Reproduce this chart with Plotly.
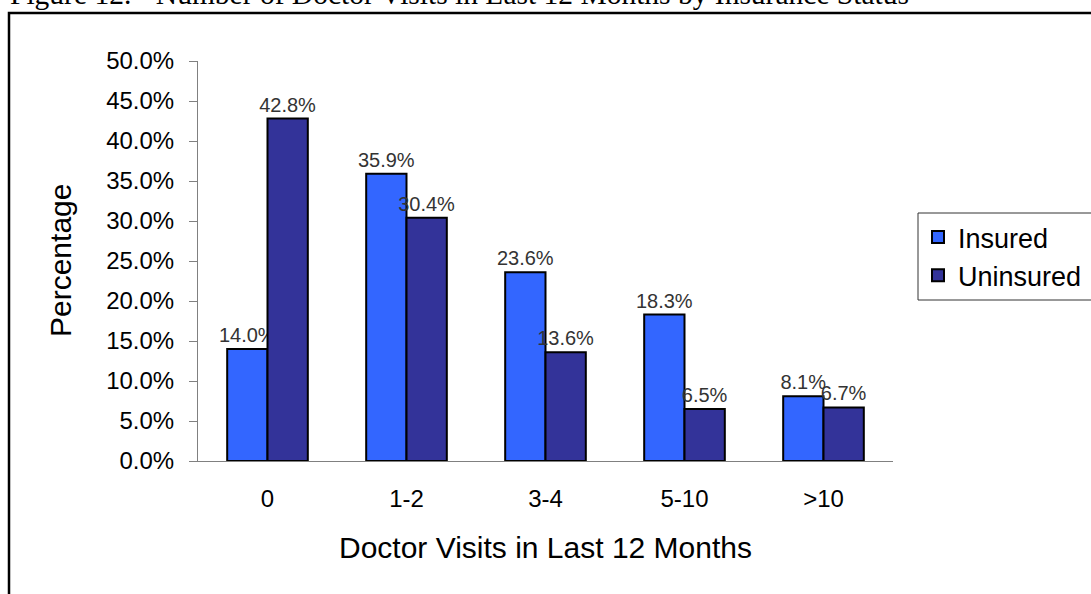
import plotly.graph_objects as go

categories = ["0", "1-2", "3-4", "5-10", ">10"]
insured = [14.0, 35.9, 23.6, 18.3, 8.1]
uninsured = [42.8, 30.4, 13.6, 6.5, 6.7]
y_ticks = [0, 5, 10, 15, 20, 25, 30, 35, 40, 45, 50]

W, H = 1091, 594
L, R, T, B = 198, 198, 61, 133
pw, ph = W - L - R, H - T - B

def px(x):
    return (x - L) / pw

def py(y):
    return (H - B - y) / ph

fig = go.Figure()
fig.add_trace(go.Bar(
    name="Insured", x=categories, y=insured,
    marker=dict(color="#3366FF", line=dict(color="black", width=2)),
    texttemplate="%{y:.1f}%", textposition="outside", constraintext="none",
    textfont=dict(size=20, color="#333333"), cliponaxis=False,
))
fig.add_trace(go.Bar(
    name="Uninsured", x=categories, y=uninsured,
    marker=dict(color="#333399", line=dict(color="black", width=2)),
    texttemplate="%{y:.1f}%", textposition="outside", constraintext="none",
    textfont=dict(size=20, color="#333333"), cliponaxis=False,
))

fig.update_layout(
    width=W, height=H,
    margin=dict(l=L, r=R, t=T, b=B, autoexpand=False),
    paper_bgcolor="white", plot_bgcolor="white",
    font=dict(family="Liberation Sans, Arial", color="black"),
    barmode="group", bargap=0.42, bargroupgap=0,
    showlegend=True,
    legend=dict(
        x=px(918), y=py(213), xanchor="left", yanchor="top",
        borderwidth=0, bgcolor="rgba(0,0,0,0)",
        font=dict(size=27), itemsizing="constant",
    ),
)

fig.update_yaxes(
    range=[0, 50], tickvals=y_ticks,
    ticktext=[f"{v:.1f}%" for v in y_ticks],
    showline=True, linecolor="#808080", linewidth=1,
    ticks="outside", ticklen=8, tickcolor="#808080",
    tickfont=dict(size=24), showgrid=False, zeroline=False,
    ticklabelstandoff=10,
)
fig.update_xaxes(
    showline=True, linecolor="#808080", linewidth=1,
    ticks="", tickfont=dict(size=24), showgrid=False,
    ticklabelstandoff=16,
)

# axis titles
fig.add_annotation(text="Percentage", xref="paper", yref="paper",
                   x=px(60), y=py(261), textangle=-90, showarrow=False,
                   font=dict(size=30), xanchor="center", yanchor="middle")
fig.add_annotation(text="Doctor Visits in Last 12 Months", xref="paper", yref="paper",
                   x=px(545), y=py(547), showarrow=False,
                   font=dict(size=30), xanchor="center", yanchor="middle")

# cut-off figure caption at top
fig.add_annotation(text="Figure 12. - Number of Doctor Visits in Last 12 Months by Insurance Status",
                   xref="paper", yref="paper", x=px(8), y=py(12),
                   xanchor="left", yanchor="bottom", showarrow=False,
                   font=dict(size=29.5, family="Liberation Serif, Times New Roman", color="black"))

# legend box (extends past the right edge, as in the original)
fig.add_shape(type="rect", xref="paper", yref="paper",
              x0=px(918), x1=px(1200), y0=py(300), y1=py(213),
              line=dict(color="#333333", width=1), fillcolor="rgba(0,0,0,0)", layer="above")

# outer frame (extends beyond the picture)
fig.add_shape(type="rect", xref="paper", yref="paper",
              x0=px(9), x1=px(1200), y0=py(700), y1=py(13),
              line=dict(color="black", width=2.5), fillcolor="rgba(0,0,0,0)", layer="below")

fig.write_html("out.html", config={"displayModeBar": False},
               post_script="document.body.style.margin='0';")
